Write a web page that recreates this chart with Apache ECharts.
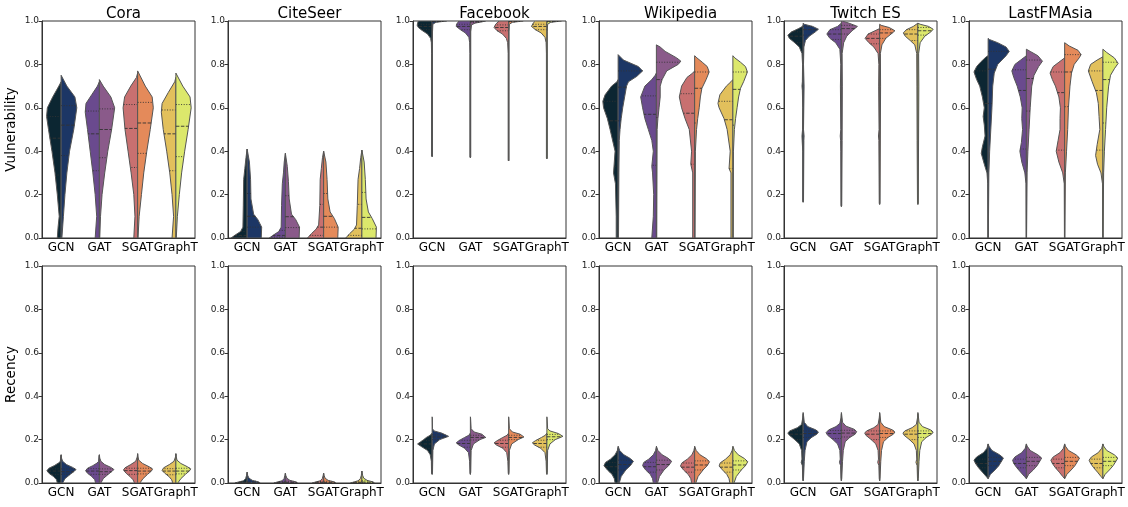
<!DOCTYPE html>
<html>
<head>
<meta charset="utf-8">
<script src="https://cdn.jsdelivr.net/npm/echarts@6/dist/echarts.min.js"></script>
<style>html,body{margin:0;background:#fff}#chart{width:1128px;height:507px}</style>
</head>
<body>
<div id="chart"></div>
<script>
var models = ['GCN', 'GAT', 'SGAT', 'GraphT'];
var datasets = ['Cora', 'CiteSeer', 'Facebook', 'Wikipedia', 'Twitch ES', 'LastFMAsia'];
var metricNames = ['Vulnerability', 'Recency'];
var leftColors = ['#0c2632', '#6a4a8e', '#c87070', '#e2c05c'];
var rightColors = ['#1c3665', '#8a5a8a', '#e48a5a', '#dce86c'];

// half-violin outlines: [value, half width as share of the category band], one list per model
// quartiles: [q1, median, q3]

// ---- Vulnerability ----
var coraVulL = [
  [[0,0.1],[0.05,0.08],[0.1,0.05],[0.2,0.1],[0.3,0.16],[0.4,0.24],[0.5,0.33],[0.56,0.38],[0.6,0.36],[0.65,0.22],[0.7,0.06],[0.72,0]],
  [[0,0.11],[0.1,0.07],[0.2,0.11],[0.3,0.17],[0.4,0.24],[0.5,0.31],[0.58,0.37],[0.62,0.35],[0.66,0.2],[0.7,0.05],[0.72,0]],
  [[0,0.1],[0.1,0.07],[0.2,0.1],[0.3,0.17],[0.4,0.25],[0.5,0.33],[0.6,0.38],[0.65,0.34],[0.7,0.18],[0.74,0.03],[0.76,0]],
  [[0,0.1],[0.1,0.06],[0.2,0.1],[0.3,0.16],[0.4,0.24],[0.5,0.33],[0.58,0.38],[0.62,0.36],[0.67,0.2],[0.72,0.03],[0.74,0]]
];
var coraVulR = [
  [[0,0.02],[0.1,0.06],[0.2,0.1],[0.3,0.15],[0.4,0.22],[0.5,0.33],[0.6,0.41],[0.65,0.36],[0.7,0.15],[0.75,0]],
  [[0,0.01],[0.1,0.03],[0.2,0.07],[0.3,0.14],[0.4,0.22],[0.5,0.32],[0.6,0.4],[0.65,0.3],[0.7,0.1],[0.73,0]],
  [[0,0.01],[0.1,0.04],[0.2,0.1],[0.3,0.16],[0.4,0.24],[0.5,0.33],[0.6,0.41],[0.65,0.38],[0.7,0.2],[0.77,0]],
  [[0,0.01],[0.1,0.04],[0.2,0.09],[0.3,0.15],[0.4,0.23],[0.5,0.32],[0.6,0.4],[0.65,0.37],[0.7,0.18],[0.76,0]]
];
var coraVulQL = [[0.29,0.46,0.56],[0.31,0.48,0.585],[0.325,0.505,0.615],[0.31,0.48,0.59]];
var coraVulQR = [[0.38,0.52,0.61],[0.37,0.5,0.595],[0.39,0.53,0.625],[0.375,0.515,0.615]];

var citeVulL = [
  [[0,0.42],[0.015,0.3],[0.03,0.17],[0.05,0.11],[0.15,0.1],[0.27,0.09],[0.32,0.06],[0.37,0.03],[0.41,0]],
  [[0,0.42],[0.015,0.3],[0.03,0.17],[0.05,0.11],[0.15,0.1],[0.25,0.08],[0.3,0.05],[0.35,0.03],[0.39,0]],
  [[0,0.42],[0.02,0.32],[0.04,0.2],[0.06,0.13],[0.15,0.1],[0.27,0.09],[0.32,0.06],[0.37,0.03],[0.4,0]],
  [[0,0.42],[0.02,0.32],[0.04,0.2],[0.06,0.14],[0.15,0.12],[0.27,0.1],[0.32,0.06],[0.37,0.03],[0.405,0]]
];
var citeVulR = [
  [[0,0.37],[0.05,0.38],[0.085,0.28],[0.11,0.17],[0.18,0.1],[0.27,0.09],[0.35,0.06],[0.41,0]],
  [[0,0.36],[0.05,0.37],[0.085,0.27],[0.11,0.16],[0.18,0.1],[0.26,0.08],[0.33,0.05],[0.39,0]],
  [[0,0.37],[0.05,0.38],[0.09,0.28],[0.12,0.17],[0.18,0.11],[0.27,0.09],[0.35,0.06],[0.4,0]],
  [[0,0.37],[0.05,0.38],[0.09,0.27],[0.12,0.17],[0.18,0.11],[0.27,0.09],[0.35,0.06],[0.405,0]]
];
var citeVulQL = [[0.004,0.012,0.03],[0.004,0.012,0.035],[0.012,0.05,0.155],[0.012,0.045,0.155]];
var citeVulQR = [[0.05,0.1,0.205],[0.048,0.098,0.195],[0.05,0.1,0.205],[0.042,0.095,0.21]];

var fbVulL = [
  [[0.375,0],[0.378,0.014],[0.85,0.014],[0.9,0.02],[0.92,0.04],[0.94,0.12],[0.955,0.25],[0.97,0.36],[0.98,0.39],[0.99,0.38],[1,0.36]],
  [[0.37,0],[0.373,0.012],[0.85,0.012],[0.9,0.018],[0.925,0.04],[0.945,0.13],[0.96,0.26],[0.975,0.37],[0.985,0.36],[1,0.3]],
  [[0.355,0],[0.358,0.012],[0.85,0.012],[0.9,0.025],[0.92,0.06],[0.94,0.16],[0.955,0.3],[0.97,0.38],[0.985,0.34],[1,0.25]],
  [[0.365,0],[0.368,0.012],[0.85,0.012],[0.9,0.02],[0.925,0.05],[0.945,0.15],[0.96,0.3],[0.975,0.4],[0.99,0.36],[1,0.3]]
];
var fbVulR = [
  [[0.375,0],[0.378,0.01],[0.95,0.01],[0.985,0.02],[0.994,0.1],[1,0.38]],
  [[0.37,0],[0.373,0.01],[0.95,0.01],[0.982,0.03],[0.99,0.12],[1,0.4]],
  [[0.355,0],[0.358,0.01],[0.95,0.01],[0.985,0.02],[0.994,0.1],[1,0.38]],
  [[0.365,0],[0.368,0.01],[0.95,0.01],[0.985,0.02],[0.994,0.1],[1,0.38]]
];
var fbVulQL = [[0.96,0.975,0.985],[0.96,0.975,0.985],[0.955,0.97,0.982],[0.96,0.975,0.985]];
var fbVulQR = [[0.996,0.998,0.999],[0.994,0.997,0.999],[0.996,0.998,0.999],[0.996,0.998,0.999]];

var wikiVulL = [
  [[0,0.05],[0.1,0.05],[0.25,0.07],[0.3,0.12],[0.35,0.1],[0.4,0.08],[0.5,0.21],[0.55,0.28],[0.6,0.38],[0.63,0.4],[0.66,0.34],[0.7,0.17],[0.72,0.03],[0.73,0]],
  [[0,0.12],[0.1,0.08],[0.2,0.07],[0.3,0.1],[0.33,0.12],[0.4,0.08],[0.45,0.12],[0.5,0.21],[0.55,0.3],[0.6,0.36],[0.65,0.41],[0.7,0.3],[0.73,0.12],[0.75,0.03],[0.76,0]],
  [[0,0.05],[0.3,0.05],[0.34,0.1],[0.4,0.08],[0.5,0.14],[0.55,0.25],[0.6,0.34],[0.65,0.4],[0.7,0.34],[0.74,0.2],[0.76,0.05],[0.77,0]],
  [[0,0.05],[0.3,0.05],[0.32,0.1],[0.4,0.07],[0.5,0.15],[0.55,0.23],[0.6,0.36],[0.62,0.39],[0.66,0.34],[0.7,0.17],[0.72,0.05],[0.73,0]]
];
var wikiVulR = [
  [[0,0.01],[0.3,0.02],[0.45,0.03],[0.5,0.05],[0.55,0.08],[0.6,0.12],[0.65,0.17],[0.7,0.22],[0.72,0.27],[0.745,0.49],[0.77,0.64],[0.79,0.53],[0.82,0.14],[0.845,0]],
  [[0,0.01],[0.5,0.02],[0.55,0.04],[0.6,0.07],[0.65,0.1],[0.7,0.1],[0.73,0.15],[0.77,0.27],[0.8,0.57],[0.815,0.64],[0.83,0.53],[0.86,0.23],[0.88,0.1],[0.89,0]],
  [[0,0.01],[0.4,0.02],[0.5,0.05],[0.55,0.08],[0.6,0.12],[0.65,0.15],[0.69,0.19],[0.73,0.3],[0.765,0.38],[0.79,0.33],[0.81,0.2],[0.83,0.06],[0.84,0]],
  [[0,0.01],[0.4,0.015],[0.5,0.04],[0.55,0.07],[0.6,0.11],[0.65,0.15],[0.69,0.2],[0.72,0.28],[0.765,0.38],[0.79,0.33],[0.81,0.2],[0.83,0.05],[0.84,0]]
];
var wikiVulQL = [[0.33,0.54,0.63],[0.335,0.57,0.655],[0.34,0.575,0.665],[0.32,0.545,0.63]];
var wikiVulQR = [[0.54,0.695,0.77],[0.555,0.73,0.81],[0.53,0.69,0.765],[0.52,0.685,0.765]];

var twVulL = [
  [[0.165,0],[0.17,0.01],[0.4,0.01],[0.45,0.025],[0.47,0.03],[0.5,0.015],[0.6,0.01],[0.68,0.02],[0.7,0.03],[0.72,0.02],[0.8,0.015],[0.85,0.03],[0.88,0.1],[0.9,0.22],[0.92,0.36],[0.935,0.4],[0.95,0.3],[0.965,0.12],[0.975,0.02],[0.98,0]],
  [[0.145,0],[0.15,0.01],[0.4,0.015],[0.45,0.02],[0.47,0.03],[0.5,0.015],[0.7,0.025],[0.8,0.015],[0.87,0.04],[0.9,0.15],[0.92,0.3],[0.94,0.38],[0.96,0.3],[0.975,0.1],[0.99,0]],
  [[0.155,0],[0.16,0.01],[0.45,0.02],[0.47,0.03],[0.5,0.015],[0.7,0.025],[0.8,0.02],[0.85,0.04],[0.88,0.15],[0.9,0.28],[0.92,0.38],[0.94,0.3],[0.955,0.12],[0.965,0]],
  [[0.155,0],[0.16,0.01],[0.45,0.02],[0.7,0.025],[0.85,0.03],[0.89,0.08],[0.91,0.2],[0.93,0.33],[0.945,0.38],[0.96,0.3],[0.975,0.12],[0.99,0]]
];
var twVulR = [
  [[0.165,0],[0.17,0.01],[0.45,0.02],[0.47,0.025],[0.5,0.01],[0.7,0.025],[0.8,0.01],[0.88,0.02],[0.91,0.06],[0.93,0.16],[0.95,0.32],[0.962,0.4],[0.975,0.25],[0.985,0.03],[0.99,0]],
  [[0.145,0],[0.15,0.01],[0.45,0.02],[0.7,0.025],[0.85,0.02],[0.9,0.06],[0.93,0.14],[0.955,0.28],[0.975,0.42],[0.99,0.2],[1,0.02]],
  [[0.155,0],[0.16,0.01],[0.7,0.025],[0.85,0.02],[0.89,0.06],[0.92,0.16],[0.94,0.3],[0.955,0.4],[0.97,0.25],[0.98,0.04],[0.985,0]],
  [[0.155,0],[0.16,0.01],[0.7,0.025],[0.85,0.02],[0.9,0.06],[0.93,0.18],[0.95,0.34],[0.962,0.4],[0.975,0.28],[0.985,0.06],[0.99,0]]
];
var twVulQL = [[0.9,0.93,0.95],[0.915,0.94,0.96],[0.895,0.92,0.94],[0.91,0.94,0.96]];
var twVulQR = [[0.935,0.96,0.975],[0.94,0.965,0.98],[0.92,0.945,0.96],[0.935,0.955,0.97]];

var fmVulL = [
  [[0,0.005],[0.25,0.01],[0.3,0.03],[0.34,0.1],[0.39,0.18],[0.42,0.15],[0.47,0.08],[0.52,0.1],[0.56,0.13],[0.6,0.1],[0.65,0.15],[0.7,0.22],[0.73,0.3],[0.765,0.37],[0.79,0.3],[0.81,0.2],[0.835,0.05],[0.84,0]],
  [[0,0.005],[0.25,0.01],[0.3,0.04],[0.35,0.12],[0.4,0.17],[0.44,0.13],[0.5,0.1],[0.55,0.12],[0.6,0.11],[0.65,0.16],[0.7,0.24],[0.74,0.33],[0.77,0.38],[0.8,0.3],[0.82,0.15],[0.84,0]],
  [[0,0.005],[0.25,0.01],[0.3,0.05],[0.35,0.15],[0.4,0.22],[0.45,0.17],[0.5,0.12],[0.55,0.12],[0.6,0.11],[0.65,0.15],[0.7,0.24],[0.73,0.32],[0.76,0.38],[0.79,0.3],[0.81,0.15],[0.83,0]],
  [[0,0.005],[0.25,0.01],[0.3,0.05],[0.34,0.14],[0.38,0.19],[0.43,0.15],[0.5,0.08],[0.56,0.1],[0.62,0.12],[0.67,0.17],[0.72,0.28],[0.77,0.38],[0.8,0.32],[0.82,0.15],[0.835,0]]
];
var fmVulR = [
  [[0,0.005],[0.3,0.02],[0.4,0.04],[0.5,0.07],[0.6,0.1],[0.7,0.12],[0.76,0.16],[0.8,0.25],[0.84,0.47],[0.86,0.55],[0.88,0.47],[0.9,0.25],[0.915,0.03],[0.92,0]],
  [[0,0.005],[0.3,0.02],[0.4,0.04],[0.5,0.07],[0.6,0.1],[0.7,0.14],[0.75,0.2],[0.79,0.32],[0.815,0.42],[0.84,0.3],[0.86,0.1],[0.87,0]],
  [[0,0.005],[0.3,0.02],[0.4,0.05],[0.5,0.08],[0.6,0.1],[0.7,0.14],[0.76,0.18],[0.8,0.25],[0.83,0.38],[0.845,0.43],[0.865,0.35],[0.885,0.12],[0.9,0]],
  [[0,0.005],[0.3,0.02],[0.4,0.04],[0.5,0.07],[0.6,0.1],[0.7,0.15],[0.75,0.2],[0.78,0.3],[0.805,0.4],[0.83,0.3],[0.855,0.1],[0.87,0]]
];
var fmVulQL = [[0.41,0.62,0.77],[0.41,0.68,0.775],[0.405,0.67,0.765],[0.405,0.68,0.77]];
var fmVulQR = [[0.62,0.778,0.86],[0.585,0.735,0.82],[0.605,0.765,0.845],[0.53,0.73,0.81]];

// ---- Recency ----
var coraRecL = [
  [[0,0.1],[0.015,0.12],[0.03,0.2],[0.045,0.32],[0.057,0.37],[0.068,0.32],[0.08,0.18],[0.092,0.07],[0.1,0.02],[0.125,0.01],[0.13,0]],
  [[0,0.1],[0.015,0.12],[0.03,0.2],[0.045,0.31],[0.057,0.36],[0.068,0.31],[0.08,0.17],[0.092,0.06],[0.1,0.02],[0.125,0.01],[0.13,0]],
  [[0,0.08],[0.015,0.12],[0.03,0.2],[0.045,0.3],[0.06,0.37],[0.07,0.33],[0.085,0.18],[0.1,0.05],[0.12,0.01],[0.135,0]],
  [[0,0.08],[0.015,0.11],[0.03,0.18],[0.045,0.29],[0.058,0.36],[0.07,0.32],[0.085,0.17],[0.1,0.05],[0.12,0.01],[0.135,0]]
];
var coraRecR = [
  [[0,0.04],[0.02,0.1],[0.04,0.24],[0.055,0.35],[0.062,0.39],[0.072,0.3],[0.085,0.14],[0.1,0.04],[0.115,0.01],[0.13,0]],
  [[0,0.04],[0.02,0.1],[0.04,0.23],[0.055,0.34],[0.062,0.38],[0.072,0.3],[0.085,0.14],[0.1,0.04],[0.115,0.01],[0.13,0]],
  [[0,0.06],[0.02,0.14],[0.04,0.26],[0.055,0.36],[0.065,0.39],[0.075,0.3],[0.09,0.13],[0.105,0.03],[0.12,0.01],[0.135,0]],
  [[0,0.05],[0.02,0.13],[0.04,0.25],[0.055,0.35],[0.065,0.39],[0.075,0.3],[0.09,0.13],[0.105,0.03],[0.12,0.01],[0.135,0]]
];
var coraRecQL = [[0.04,0.055,0.065],[0.04,0.055,0.066],[0.04,0.057,0.068],[0.038,0.055,0.066]];
var coraRecQR = [[0.04,0.052,0.065],[0.04,0.052,0.065],[0.042,0.055,0.068],[0.042,0.055,0.068]];

var citeRecL = [
  [[0,0.32],[0.005,0.22],[0.01,0.1],[0.02,0.04],[0.035,0.015],[0.05,0]],
  [[0,0.3],[0.005,0.2],[0.01,0.09],[0.02,0.035],[0.035,0.012],[0.045,0]],
  [[0,0.3],[0.005,0.2],[0.01,0.09],[0.02,0.035],[0.035,0.012],[0.045,0]],
  [[0,0.3],[0.005,0.2],[0.01,0.1],[0.02,0.04],[0.035,0.015],[0.055,0]]
];
var citeRecR = [
  [[0,0.34],[0.005,0.3],[0.012,0.14],[0.022,0.05],[0.035,0.015],[0.05,0]],
  [[0,0.32],[0.005,0.28],[0.012,0.12],[0.022,0.04],[0.035,0.012],[0.045,0]],
  [[0,0.32],[0.005,0.28],[0.012,0.12],[0.022,0.04],[0.035,0.012],[0.045,0]],
  [[0,0.33],[0.005,0.29],[0.012,0.14],[0.022,0.05],[0.035,0.02],[0.055,0]]
];
var citeRecQL = [[0.001,0.003,0.007],[0.001,0.003,0.007],[0.001,0.003,0.007],[0.001,0.003,0.008]];
var citeRecQR = [[0.001,0.003,0.008],[0.001,0.003,0.008],[0.001,0.003,0.008],[0.001,0.004,0.01]];

var fbRecL = [
  [[0.04,0],[0.045,0.015],[0.1,0.02],[0.13,0.05],[0.15,0.12],[0.17,0.3],[0.18,0.38],[0.19,0.3],[0.2,0.22],[0.21,0.15],[0.22,0.05],[0.23,0]],
  [[0.04,0],[0.045,0.01],[0.1,0.02],[0.14,0.05],[0.16,0.15],[0.175,0.3],[0.185,0.37],[0.195,0.3],[0.21,0.15],[0.22,0.04],[0.23,0]],
  [[0.04,0],[0.045,0.01],[0.1,0.02],[0.14,0.05],[0.16,0.15],[0.175,0.32],[0.185,0.38],[0.195,0.3],[0.21,0.15],[0.22,0.04],[0.23,0]],
  [[0.04,0],[0.045,0.01],[0.1,0.02],[0.14,0.05],[0.16,0.16],[0.175,0.32],[0.185,0.38],[0.195,0.3],[0.21,0.14],[0.22,0.04],[0.23,0]]
];
var fbRecR = [
  [[0.04,0],[0.05,0.01],[0.15,0.02],[0.18,0.06],[0.2,0.2],[0.215,0.43],[0.23,0.25],[0.24,0.05],[0.25,0.01],[0.3,0.005],[0.305,0]],
  [[0.04,0],[0.05,0.01],[0.15,0.02],[0.18,0.08],[0.2,0.25],[0.21,0.4],[0.225,0.3],[0.235,0.1],[0.25,0.02],[0.3,0.005],[0.305,0]],
  [[0.04,0],[0.05,0.01],[0.15,0.02],[0.18,0.08],[0.2,0.25],[0.212,0.4],[0.225,0.3],[0.235,0.1],[0.25,0.02],[0.3,0.005],[0.305,0]],
  [[0.04,0],[0.05,0.01],[0.15,0.02],[0.18,0.08],[0.2,0.22],[0.215,0.42],[0.228,0.3],[0.24,0.08],[0.25,0.02],[0.3,0.005],[0.305,0]]
];
var fbRecQL = [[0.16,0.18,0.195],[0.165,0.182,0.197],[0.165,0.182,0.197],[0.165,0.182,0.197]];
var fbRecQR = [[0.2,0.212,0.222],[0.198,0.21,0.22],[0.2,0.21,0.22],[0.2,0.213,0.224]];

var wikiRecL = [
  [[0,0.08],[0.02,0.1],[0.04,0.16],[0.06,0.28],[0.08,0.37],[0.095,0.33],[0.11,0.2],[0.13,0.08],[0.15,0.02],[0.165,0]],
  [[0,0.08],[0.02,0.1],[0.04,0.16],[0.06,0.28],[0.08,0.36],[0.095,0.33],[0.11,0.2],[0.13,0.08],[0.15,0.02],[0.165,0]],
  [[0,0.08],[0.02,0.1],[0.04,0.17],[0.06,0.29],[0.078,0.37],[0.093,0.33],[0.11,0.19],[0.13,0.07],[0.15,0.02],[0.165,0]],
  [[0,0.08],[0.02,0.1],[0.04,0.16],[0.06,0.27],[0.078,0.36],[0.093,0.33],[0.11,0.19],[0.13,0.07],[0.15,0.02],[0.165,0]]
];
var wikiRecR = [
  [[0,0.03],[0.03,0.08],[0.06,0.2],[0.08,0.32],[0.1,0.4],[0.115,0.3],[0.13,0.15],[0.15,0.04],[0.165,0.01],[0.17,0]],
  [[0,0.03],[0.03,0.08],[0.06,0.2],[0.08,0.32],[0.1,0.4],[0.115,0.3],[0.13,0.15],[0.15,0.04],[0.165,0.01],[0.17,0]],
  [[0,0.03],[0.03,0.09],[0.06,0.22],[0.08,0.33],[0.098,0.39],[0.113,0.3],[0.13,0.14],[0.15,0.04],[0.165,0.01],[0.17,0]],
  [[0,0.03],[0.03,0.09],[0.06,0.22],[0.08,0.33],[0.098,0.39],[0.113,0.3],[0.13,0.14],[0.15,0.04],[0.165,0.01],[0.17,0]]
];
var wikiRecQL = [[0.05,0.075,0.095],[0.05,0.075,0.095],[0.05,0.073,0.092],[0.05,0.073,0.092]];
var wikiRecQR = [[0.06,0.085,0.105],[0.06,0.085,0.105],[0.06,0.083,0.102],[0.06,0.083,0.102]];

var twRecL = [
  [[0.01,0],[0.02,0.01],[0.08,0.02],[0.095,0.05],[0.11,0.03],[0.15,0.04],[0.18,0.1],[0.2,0.22],[0.22,0.36],[0.23,0.4],[0.24,0.35],[0.255,0.15],[0.27,0.04],[0.3,0.01],[0.32,0]],
  [[0.01,0],[0.02,0.01],[0.08,0.02],[0.095,0.05],[0.11,0.03],[0.15,0.04],[0.18,0.1],[0.2,0.22],[0.22,0.36],[0.232,0.4],[0.245,0.33],[0.26,0.14],[0.275,0.04],[0.3,0.01],[0.32,0]],
  [[0.01,0],[0.02,0.01],[0.08,0.02],[0.095,0.05],[0.11,0.03],[0.15,0.04],[0.18,0.1],[0.2,0.22],[0.22,0.36],[0.23,0.39],[0.24,0.34],[0.255,0.15],[0.27,0.04],[0.3,0.01],[0.32,0]],
  [[0.01,0],[0.02,0.01],[0.08,0.02],[0.095,0.05],[0.11,0.03],[0.15,0.04],[0.18,0.1],[0.2,0.22],[0.22,0.36],[0.23,0.39],[0.24,0.34],[0.255,0.15],[0.27,0.04],[0.3,0.01],[0.32,0]]
];
var twRecR = [
  [[0.01,0],[0.02,0.01],[0.1,0.03],[0.15,0.05],[0.19,0.1],[0.21,0.22],[0.225,0.36],[0.235,0.4],[0.245,0.33],[0.26,0.12],[0.28,0.03],[0.32,0.005],[0.325,0]],
  [[0.01,0],[0.02,0.01],[0.1,0.03],[0.15,0.05],[0.19,0.1],[0.21,0.22],[0.225,0.36],[0.237,0.4],[0.248,0.33],[0.262,0.12],[0.28,0.03],[0.32,0.005],[0.325,0]],
  [[0.01,0],[0.02,0.01],[0.1,0.03],[0.15,0.05],[0.19,0.1],[0.21,0.22],[0.225,0.36],[0.235,0.4],[0.245,0.33],[0.26,0.12],[0.28,0.03],[0.32,0.005],[0.325,0]],
  [[0.01,0],[0.02,0.01],[0.1,0.03],[0.15,0.05],[0.19,0.1],[0.21,0.22],[0.225,0.36],[0.235,0.4],[0.245,0.33],[0.26,0.12],[0.28,0.03],[0.32,0.005],[0.325,0]]
];
var twRecQL = [[0.2,0.225,0.24],[0.205,0.228,0.242],[0.2,0.225,0.24],[0.2,0.225,0.24]];
var twRecQR = [[0.21,0.228,0.24],[0.212,0.23,0.243],[0.21,0.228,0.24],[0.21,0.228,0.24]];

var fmRecL = [
  [[0.02,0],[0.03,0.05],[0.05,0.15],[0.07,0.25],[0.09,0.33],[0.105,0.37],[0.12,0.3],[0.14,0.12],[0.16,0.03],[0.18,0]],
  [[0.02,0],[0.03,0.05],[0.05,0.15],[0.07,0.25],[0.09,0.33],[0.105,0.36],[0.12,0.3],[0.14,0.12],[0.16,0.03],[0.18,0]],
  [[0.02,0],[0.03,0.05],[0.05,0.14],[0.07,0.24],[0.09,0.32],[0.105,0.36],[0.12,0.3],[0.14,0.12],[0.16,0.03],[0.18,0]],
  [[0.02,0],[0.03,0.05],[0.05,0.14],[0.07,0.24],[0.09,0.32],[0.105,0.36],[0.12,0.3],[0.14,0.12],[0.16,0.03],[0.18,0]]
];
var fmRecR = [
  [[0.02,0],[0.04,0.06],[0.06,0.18],[0.08,0.28],[0.1,0.35],[0.115,0.4],[0.13,0.3],[0.15,0.1],[0.17,0.02],[0.18,0]],
  [[0.02,0],[0.04,0.06],[0.06,0.18],[0.08,0.28],[0.1,0.35],[0.115,0.4],[0.13,0.3],[0.15,0.1],[0.17,0.02],[0.18,0]],
  [[0.02,0],[0.04,0.06],[0.06,0.17],[0.08,0.27],[0.1,0.34],[0.115,0.39],[0.13,0.3],[0.15,0.1],[0.17,0.02],[0.18,0]],
  [[0.02,0],[0.04,0.06],[0.06,0.17],[0.08,0.27],[0.1,0.34],[0.115,0.39],[0.13,0.3],[0.15,0.1],[0.17,0.02],[0.18,0]]
];
var fmRecQL = [[0.07,0.09,0.11],[0.07,0.09,0.11],[0.07,0.09,0.11],[0.07,0.09,0.11]];
var fmRecQR = [[0.08,0.1,0.118],[0.08,0.1,0.118],[0.08,0.1,0.118],[0.08,0.1,0.118]];

var panels = [
  [coraVulL, coraVulR, coraVulQL, coraVulQR], [citeVulL, citeVulR, citeVulQL, citeVulQR],
  [fbVulL, fbVulR, fbVulQL, fbVulQR], [wikiVulL, wikiVulR, wikiVulQL, wikiVulQR],
  [twVulL, twVulR, twVulQL, twVulQR], [fmVulL, fmVulR, fmVulQL, fmVulQR],
  [coraRecL, coraRecR, coraRecQL, coraRecQR], [citeRecL, citeRecR, citeRecQL, citeRecQR],
  [fbRecL, fbRecR, fbRecQL, fbRecQR], [wikiRecL, wikiRecR, wikiRecQL, wikiRecQR],
  [twRecL, twRecR, twRecQL, twRecQR], [fmRecL, fmRecR, fmRecQL, fmRecQR]
];

var gridLefts = [42, 228, 413, 599, 784, 969];
var gridTops = [21, 266];
var gridW = 153, gridH = 217;
var font = 'DejaVu Sans';

function widthAt(prof, v) {
  for (var i = 0; i < prof.length - 1; i++) {
    var a = prof[i], b = prof[i + 1];
    if (v >= a[0] && v <= b[0]) {
      var t = b[0] === a[0] ? 0 : (v - a[0]) / (b[0] - a[0]);
      return a[1] + t * (b[1] - a[1]);
    }
  }
  return 0;
}

function makeRender(p) {
  return function (params, api) {
    var m = Math.floor(params.dataIndex / 2);
    var side = params.dataIndex % 2 === 0 ? -1 : 1;
    var prof = side < 0 ? p[0][m] : p[1][m];
    var quart = side < 0 ? p[2][m] : p[3][m];
    var cx = api.coord([m, 0])[0];
    var bw = api.size([1, 0])[0];
    var yOf = function (v) { return api.coord([m, v])[1]; };
    var pts = [[cx, yOf(prof[0][0])]];
    prof.forEach(function (d) { pts.push([cx + side * d[1] * bw, yOf(d[0])]); });
    pts.push([cx, yOf(prof[prof.length - 1][0])]);
    var children = [{
      type: 'polygon', shape: { points: pts },
      style: { fill: side < 0 ? leftColors[m] : rightColors[m], stroke: '#555', lineWidth: 1 }
    }];
    quart.forEach(function (q, k) {
      var w = widthAt(prof, q), y = yOf(q);
      children.push({
        type: 'line', silent: true,
        shape: { x1: cx, y1: y, x2: cx + side * w * bw, y2: y },
        style: { stroke: '#333', lineWidth: 0.9, lineDash: k === 1 ? [3.5, 1.5] : [1, 1.6] }
      });
    });
    return { type: 'group', children: children };
  };
}

var option = { animation: false, backgroundColor: '#fff', title: [], grid: [], xAxis: [], yAxis: [], series: [] };

datasets.forEach(function (name, c) {
  option.title.push({
    text: name, left: gridLefts[c] + gridW / 2, top: 2, textAlign: 'center',
    textStyle: { fontFamily: font, fontSize: 15, fontWeight: 'normal', color: '#000' }
  });
});

panels.forEach(function (p, i) {
  var r = Math.floor(i / 6), c = i % 6;
  option.grid.push({
    left: gridLefts[c], top: gridTops[r], width: gridW, height: gridH,
    show: true, borderColor: '#333', borderWidth: 1, backgroundColor: 'transparent'
  });
  option.xAxis.push({
    type: 'category', gridIndex: i, data: models,
    axisLine: { lineStyle: { color: '#333' } },
    axisTick: { alignWithLabel: true, length: 3.5, lineStyle: { color: '#333' } },
    axisLabel: { fontFamily: font, fontSize: 12, color: '#000', margin: 4, interval: 0 }
  });
  option.yAxis.push({
    type: 'value', gridIndex: i, min: 0, max: 1, interval: 0.2,
    name: c === 0 ? metricNames[r] : '', nameLocation: 'middle', nameGap: 24,
    nameTextStyle: { fontFamily: font, fontSize: 13.5, color: '#000' },
    axisLine: { show: true, lineStyle: { color: '#333' } },
    axisTick: { show: true, length: 3.5, lineStyle: { color: '#333' } },
    splitLine: { show: false },
    axisLabel: { fontFamily: font, fontSize: 9, color: '#222', margin: 3, formatter: function (v) { return v.toFixed(1); } }
  });
  var data = [];
  models.forEach(function (mname, m) { data.push([m, 0], [m, 0]); });
  option.series.push({
    type: 'custom', xAxisIndex: i, yAxisIndex: i, clip: true,
    renderItem: makeRender(p), data: data
  });
});

var chart = echarts.init(document.getElementById('chart'));
chart.setOption(option);
</script>
</body>
</html>
